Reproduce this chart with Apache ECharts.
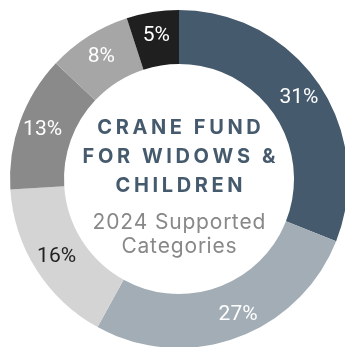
<!DOCTYPE html>
<html>
<head>
<meta charset="utf-8">
<script src="https://cdn.jsdelivr.net/npm/echarts@6/dist/echarts.min.js"></script>
<style>
  html, body { margin: 0; padding: 0; background: #fff; }
  #chart { width: 345px; height: 347px; }
</style>
</head>
<body>
<div id="chart"></div>
<script>
// Share of 2024 supported categories, drawn clockwise from 12 o'clock
const categories = ['Category 1', 'Category 2', 'Category 3', 'Category 4', 'Category 5', 'Category 6'];
const shares = [31, 27, 16, 13, 8, 5];
const sliceColors = ['#465a6d', '#a2adb6', '#d4d4d4', '#8a8a8a', '#a6a6a6', '#1f1f1f'];
const labelColors = ['#ffffff', '#ffffff', '#222222', '#ffffff', '#ffffff', '#ffffff'];
const titleLines = ['CRANE FUND', 'FOR WIDOWS &', 'CHILDREN'];
const subtitleLines = ['2024 Supported', 'Categories'];

const cx = 179, cy = 179;

// Tracked (letter-spaced) text: each character becomes a padded rich-text token
function tracked(str) {
  return str.split('').map(ch => '{t|' + (ch === ' ' ? '\u00a0' : ch) + '}').join('');
}

const graphics = [];
const titleY = [127.5, 157, 186];
titleLines.forEach((line, i) => {
  graphics.push({
    type: 'text',
    x: cx, y: titleY[i],
    style: {
      text: tracked(line),
      align: 'center',
      verticalAlign: 'middle',
      rich: {
        t: {
          fontFamily: 'Inter',
          fontWeight: 700,
          fontSize: 20,
          fill: '#465a6d',
          padding: [0, 1.8]
        }
      }
    }
  });
});
const subY = [222.5, 247];
subtitleLines.forEach((line, i) => {
  graphics.push({
    type: 'text',
    x: cx, y: subY[i],
    style: {
      text: tracked(line),
      align: 'center',
      verticalAlign: 'middle',
      rich: {
        t: {
          fontFamily: 'Inter',
          fontWeight: 400,
          fontSize: 21,
          fill: '#888888',
          padding: [0, 0.4]
        }
      }
    }
  });
});

// The bottom label sits a little right of its slice's middle angle
const labelNudge = { 1: [10, -1] };

const chart = echarts.init(document.getElementById('chart'), null, { renderer: 'canvas' });
chart.setOption({
  animation: false,
  backgroundColor: '#ffffff',
  series: [{
    type: 'pie',
    center: [cx, cy],
    radius: [115, 169],
    startAngle: 90,
    clockwise: true,
    silent: true,
    itemStyle: { borderWidth: 0 },
    label: {
      show: true,
      position: 'inside',
      fontFamily: 'Roboto',
      fontSize: 21,
      formatter: p => p.value + '%'
    },
    labelLine: { show: false },
    data: categories.map((name, i) => ({
      name,
      value: shares[i],
      itemStyle: { color: sliceColors[i] },
      label: Object.assign({ color: labelColors[i] }, labelNudge[i] ? { offset: labelNudge[i] } : {})
    }))
  }],
  graphic: graphics
});
</script>
</body>
</html>
